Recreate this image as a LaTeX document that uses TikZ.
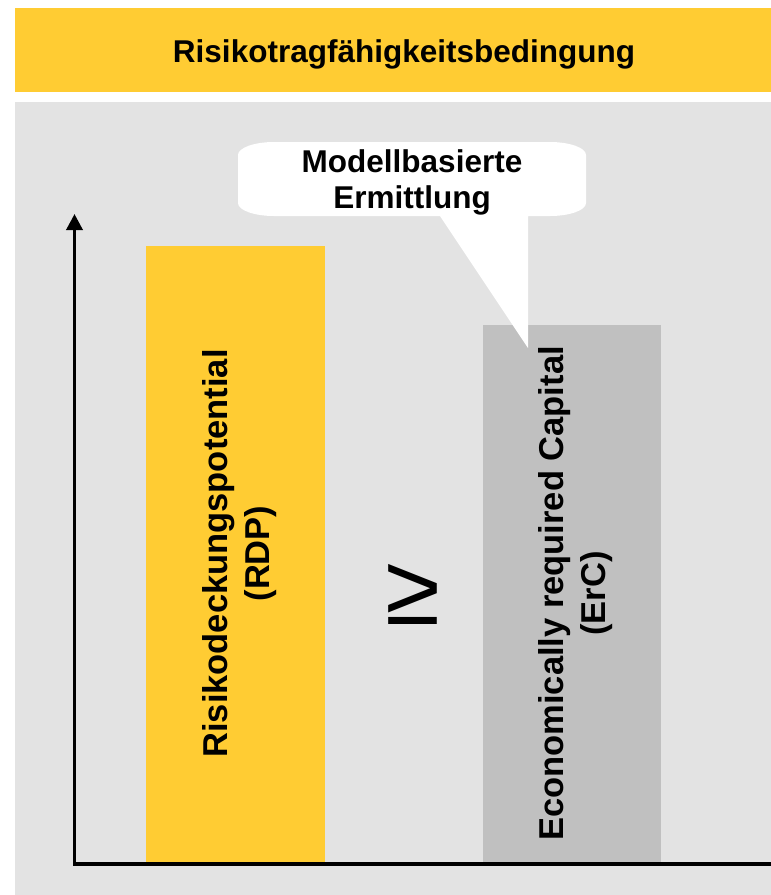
\documentclass[tikz,border=0pt]{standalone}
\usepackage{fontspec}
\setmainfont{Liberation Sans}
\usetikzlibrary{positioning, arrows.meta, calc}
\definecolor{rtfyellow}{HTML}{FFCC33}
\definecolor{panelgray}{HTML}{E3E3E3}
\definecolor{ercgray}{HTML}{C0C0C0}

\begin{document}
\begin{tikzpicture}[x=1pt, y=-1pt,
  vlabel/.style={rotate=90, align=center, inner sep=0pt, font=\fontsize{34.5}{42}\selectfont\bfseries},
  axis/.style={line width=3.5pt}]
  \useasboundingbox (0,0) rectangle (771,895);

  % Title bar
  \fill[rtfyellow] (15,8) rectangle (771,92);
  \node[anchor=base, font=\fontsize{31.5}{38}\selectfont\bfseries] (title) at (404,62) {Risikotragfähigkeitsbedingung};

  % Panel
  \fill[panelgray] (15,102) rectangle (771,895);

  % Bars
  \fill[rtfyellow] (146,246) rectangle (325,862);
  \fill[ercgray] (483,325) rectangle (661,862);
  \node[vlabel] (rdp) at (239.3,553.5) {Risikodeckungspotential\\(RDP)};
  \node[vlabel] (erc) at (575.3,593.5) {Economically required Capital\\(ErC)};
  \node[font=\fontsize{100}{100}\selectfont] (geq) at (412.5,594.5) {≥};

  % Callout
  \fill[white] (274,142) -- (550,142)
    arc[start angle=-90, end angle=0, x radius=36, y radius=13] -- (586,203)
    arc[start angle=0, end angle=90, x radius=36, y radius=13] -- (528,216)
    -- (528,348) -- (440,216) -- (274,216)
    arc[start angle=90, end angle=180, x radius=36, y radius=13] -- (238,155)
    arc[start angle=180, end angle=270, x radius=36, y radius=13] -- cycle;
  \node[align=center, font=\fontsize{31.5}{36}\selectfont\bfseries] (modell) at (412,182) {Modellbasierte\\Ermittlung};

  % Axes
  \coordinate (origin) at (74.5,864);
  \coordinate (ytop) at (74.5,214);
  \coordinate (xend) at (771,864);
  \draw[axis, {Triangle[width=16pt,length=16pt]}-] (ytop) -- (origin) -- (xend);
\end{tikzpicture}
\end{document}
